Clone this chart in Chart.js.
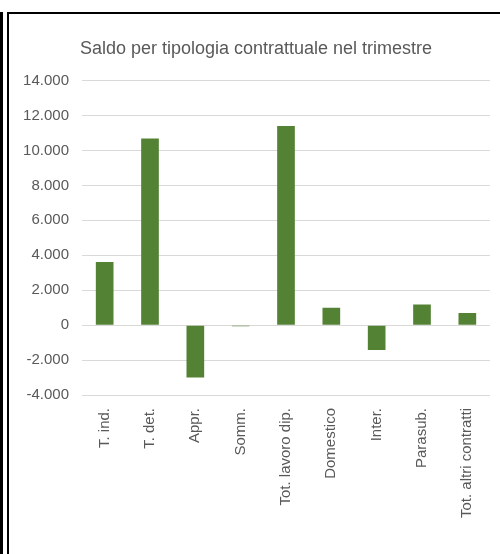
<!DOCTYPE html>
<html>
<head>
<meta charset="utf-8">
<script src="https://cdn.jsdelivr.net/npm/chart.js@4"></script>
<style>
    body { margin: 0; background: #fff; }
    #wrap { position: relative; width: 500px; height: 554px; overflow: hidden; }
    #grafico { position: absolute; left: 0; top: 0; }
    .line { position: absolute; background: #000; }
</style>
</head>
<body>
<div id="wrap">
    <canvas id="grafico" width="500" height="554"></canvas>
    <div class="line" style="left:0;top:12px;width:3px;height:542px"></div>
    <div class="line" style="left:7px;top:12px;width:2px;height:542px"></div>
    <div class="line" style="left:7px;top:12px;width:493px;height:2px"></div>
</div>
<script>
const categories = ['T. ind.', 'T. det.', 'Appr.', 'Somm.', 'Tot. lavoro dip.', 'Domestico', 'Inter.', 'Parasub.', 'Tot. altri contratti'];
const saldo = [3620, 10680, -3000, -60, 11400, 990, -1430, 1180, 700];
const yMin = -4000;
const yMax = 14000;
const yStep = 2000;

// formato italiano: 14.000
function formatta(v) {
    return String(v).replace(/\B(?=(\d{3})+(?!\d))/g, '.');
}

const font = 'Liberation Sans, Arial, sans-serif';
const grigio = '#595959';

const ctx = document.getElementById('grafico').getContext('2d');
const chart = new Chart(ctx, {
    type: 'bar',
    data: {
        labels: categories,
        datasets: [{
            label: 'Saldo',
            data: saldo,
            backgroundColor: '#548235',
            barPercentage: 0.39,
            categoryPercentage: 1
        }]
    },
    options: {
        responsive: false,
        animation: false,
        layout: { padding: { left: 22, right: 10, top: 0, bottom: 0 } },
        scales: {
            x: {
                grid: { display: false, drawTicks: false },
                border: { display: false },
                ticks: {
                    color: grigio,
                    font: { family: font, size: 15 },
                    minRotation: 90,
                    maxRotation: 90,
                    padding: 13,
                    autoSkip: false
                },
                afterFit: function(scale) { scale.height = 159; }
            },
            y: {
                min: yMin,
                max: yMax,
                grid: { color: '#d9d9d9', lineWidth: 1, drawTicks: false },
                border: { display: false },
                ticks: {
                    stepSize: yStep,
                    color: grigio,
                    font: { family: font, size: 15 },
                    padding: 13,
                    callback: function(v) { return formatta(v); }
                },
                afterFit: function(scale) { scale.width = 60; }
            }
        },
        plugins: {
            legend: { display: false },
            tooltip: { enabled: false },
            title: {
                display: true,
                text: 'Saldo per tipologia contrattuale nel trimestre',
                color: grigio,
                font: { family: font, size: 18, weight: 'normal' },
                padding: { top: 38, bottom: 21 }
            }
        }
    }
});
</script>
</body>
</html>
